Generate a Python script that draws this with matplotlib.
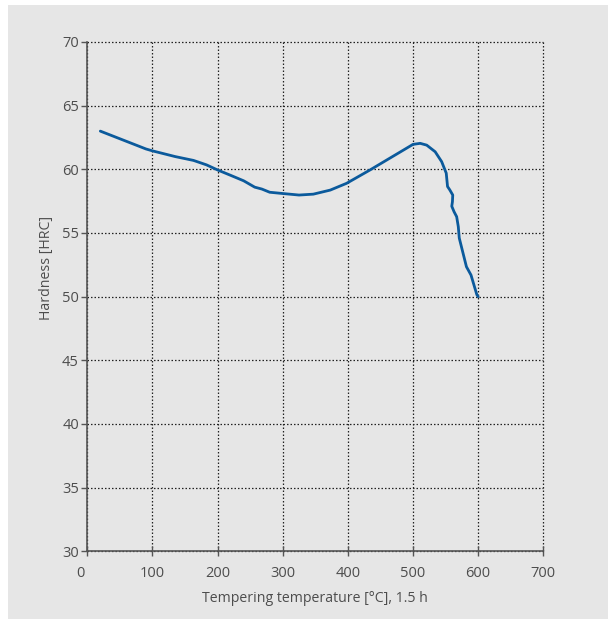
import matplotlib
matplotlib.use("Agg")
import matplotlib.pyplot as plt
import matplotlib.transforms as mtransforms
from matplotlib.patches import Rectangle

# tempering curve: temperature [°C] vs hardness [HRC]
temperature = [20, 50, 90, 100, 135, 163, 183, 200, 219, 240, 257, 268, 280,
               300, 325, 347, 373, 398, 434, 480, 500, 511, 521, 534, 544,
               551, 553, 556.5, 561, 560.5, 559.5, 563, 567, 569.5, 571, 582,
               589, 598, 600]
hardness = [63.0, 62.4, 61.6, 61.45, 61.0, 60.7, 60.35, 59.95, 59.55, 59.1,
            58.6, 58.45, 58.2, 58.1, 57.98, 58.05, 58.37, 58.9, 59.95, 61.35,
            61.96, 62.04, 61.9, 61.38, 60.6, 59.7, 58.65, 58.38, 57.98, 57.45,
            57.1, 56.67, 56.28, 55.5, 54.6, 52.35, 51.7, 50.15, 50.0]

x_ticks = [0, 100, 200, 300, 400, 500, 600, 700]
y_ticks = [30, 35, 40, 45, 50, 55, 60, 65, 70]

bg = "#e6e6e6"
text_col = "#4d4d4d"
line_col = "#0b5a9c"

plt.rcParams["font.family"] = ["Open Sans", "DejaVu Sans"]

fig = plt.figure(figsize=(6.10, 6.19), dpi=100, facecolor="white")
fig.patches.append(Rectangle((8 / 610, 0), 600 / 610, 614 / 619,
                             transform=fig.transFigure, facecolor=bg,
                             edgecolor="none", zorder=-10))

ax = fig.add_axes([87.3 / 610, 1 - 551.3 / 619, 456 / 610, 509.3 / 619])
ax.set_facecolor(bg)

ax.plot(temperature, hardness, color=line_col, linewidth=2.0,
        solid_joinstyle="round", solid_capstyle="round", zorder=3)

ax.set_xlim(0, 700)
ax.set_ylim(30, 70)
ax.set_xticks(x_ticks)
ax.set_yticks(y_ticks)

for s in ["top", "right"]:
    ax.spines[s].set_visible(False)
for s in ["left", "bottom"]:
    ax.spines[s].set_color("#555555")
    ax.spines[s].set_linewidth(1.2)

ax.grid(True, linestyle=(0, (1.2, 1.6)), color="#222222", linewidth=0.9)
ax.set_axisbelow(True)
# keep the grid lines on the frame edges (700 / 70) fully visible
for gl in ax.get_xgridlines() + ax.get_ygridlines():
    gl.set_clip_on(False)

ax.tick_params(axis="x", direction="inout", length=7, width=1, color="#555555",
               labelsize=10.5, labelcolor=text_col, pad=7)
ax.tick_params(axis="y", direction="out", length=4, width=1, color="#555555",
               labelsize=10.5, labelcolor=text_col, pad=2)

# the "0" label sits a bit left of the origin
lbl0 = ax.get_xticklabels()[0]
lbl0.set_transform(lbl0.get_transform() +
                   mtransforms.ScaledTranslation(-7 / 100, 0, fig.dpi_scale_trans))

ax.set_xlabel("Tempering temperature [°C], 1.5 h", fontsize=10.2,
              color=text_col, labelpad=7)
ax.set_ylabel("Hardness [HRC]", fontsize=10.2, color=text_col)
ax.yaxis.set_label_coords(-0.073, 0.557)

fig.savefig("out.png", dpi=100, facecolor="white")
